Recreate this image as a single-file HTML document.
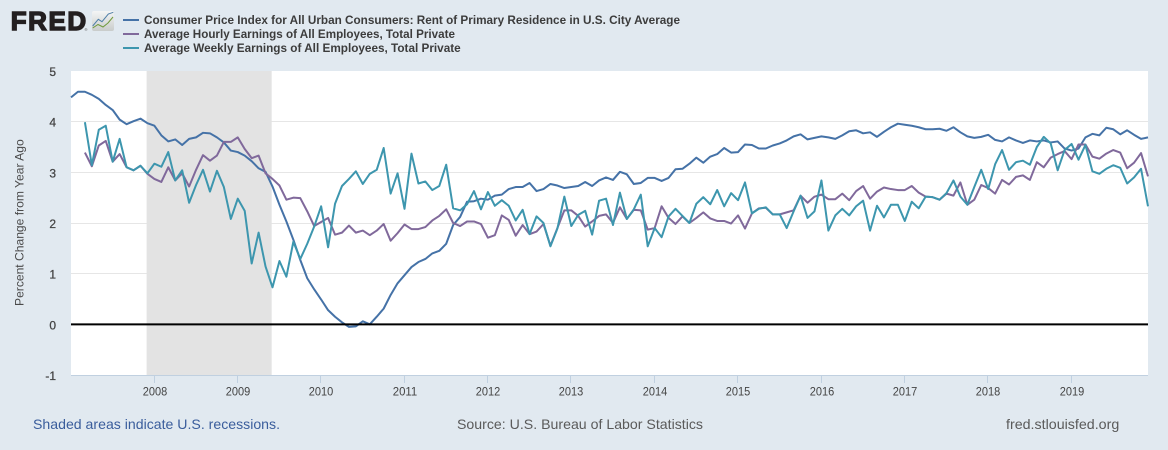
<!DOCTYPE html>
<html lang="en">
<head>
<meta charset="utf-8">
<title>FRED chart</title>
<style>
html,body{margin:0;padding:0;background:#e1e9f0;}
#chart{display:block;width:1168px;height:450px;}
text{font-family:"Liberation Sans",Arial,sans-serif;}
</style>
</head>
<body>
<svg id="chart" xmlns="http://www.w3.org/2000/svg" width="1168" height="450" viewBox="0 0 1168 450">
  <defs>
    <linearGradient id="logo-grad" x1="0" y1="0" x2="0" y2="1">
      <stop offset="0" stop-color="#f4f5f5"/>
      <stop offset="1" stop-color="#c9cccb"/>
    </linearGradient>
  </defs>
  <rect x="0" y="0" width="1168" height="450" fill="#e1e9f0"/>
  <g>
    <text x="10.7" y="30" font-size="26" font-weight="bold" fill="#231f20" stroke="#231f20" stroke-width="1.4" textLength="75.5" lengthAdjust="spacing">FRED</text>
    <text x="84.5" y="31" font-size="4" fill="#555555">®</text>
    <rect x="92" y="11" width="22" height="20" rx="2" fill="url(#logo-grad)"/>
    <polyline points="92.7,26 98.3,19.3 102,21.7 108.3,14 113.3,12.3" fill="none" stroke="#4f7fa8" stroke-width="1"/>
    <polyline points="92.7,28 98,24.5 103,27 108,23 113,17" fill="none" stroke="#6f9a3c" stroke-width="1"/>
  </g>
  <g>
    <g>
      <line x1="123" x2="139" y1="20" y2="20" stroke="#4572a7" stroke-width="2"/>
      <text x="144" y="24" font-size="12" font-weight="bold" fill="#3c3c3c" textLength="536" lengthAdjust="spacingAndGlyphs">Consumer Price Index for All Urban Consumers: Rent of Primary Residence in U.S. City Average</text>
    </g>
    <g>
      <line x1="123" x2="139" y1="34" y2="34" stroke="#80699b" stroke-width="2"/>
      <text x="144" y="38" font-size="12" font-weight="bold" fill="#3c3c3c" textLength="311" lengthAdjust="spacingAndGlyphs">Average Hourly Earnings of All Employees, Total Private</text>
    </g>
    <g>
      <line x1="123" x2="139" y1="48" y2="48" stroke="#3d96ae" stroke-width="2"/>
      <text x="144" y="52" font-size="12" font-weight="bold" fill="#3c3c3c" textLength="316.7" lengthAdjust="spacingAndGlyphs">Average Weekly Earnings of All Employees, Total Private</text>
    </g>
  </g>
  <rect x="71" y="71" width="1077" height="304" fill="#ffffff"/>
  <g id="grid"></g>
  <g id="bands"></g>
  <g id="y-axis"></g>
  <g id="x-axis"></g>
  <text transform="translate(23.3,306) rotate(-90)" font-size="12" fill="#4a4a4a" textLength="166.7" lengthAdjust="spacingAndGlyphs">Percent Change from Year Ago</text>
  <g id="series"></g>
  <line id="zero-line" stroke="#000000" stroke-width="2"/>
  <text x="33" y="429" font-size="14" fill="#3a5d9c" textLength="247" lengthAdjust="spacingAndGlyphs">Shaded areas indicate U.S. recessions.</text>
  <text x="457" y="429" font-size="14" fill="#5a5a5a" textLength="246" lengthAdjust="spacingAndGlyphs">Source: U.S. Bureau of Labor Statistics</text>
  <text x="1006" y="429" font-size="14" fill="#5a5a5a" textLength="113.3" lengthAdjust="spacingAndGlyphs">fred.stlouisfed.org</text>
</svg>
<script>
const yTicks = [-1, 0, 1, 2, 3, 4, 5];
const yearTicks = [2008, 2009, 2010, 2011, 2012, 2013, 2014, 2015, 2016, 2017, 2018, 2019];
const recessionMonths = [[11, 29]];
const rentValues = [
  4.48,4.59,4.59,4.53,4.45,4.33,4.23,4.04,3.95,4.01,
  4.06,3.97,3.92,3.73,3.61,3.65,3.54,3.66,3.69,3.78,
  3.77,3.69,3.59,3.43,3.40,3.33,3.22,3.08,3.01,2.72,
  2.36,2.03,1.67,1.27,0.91,0.69,0.49,0.28,0.15,0.04,
  -0.05,-0.04,0.06,0.00,0.15,0.31,0.58,0.81,0.97,1.13,
  1.23,1.29,1.40,1.45,1.59,1.96,2.12,2.42,2.43,2.48,
  2.46,2.54,2.56,2.67,2.71,2.71,2.79,2.63,2.67,2.77,
  2.74,2.69,2.71,2.73,2.81,2.73,2.84,2.90,2.85,3.01,
  2.96,2.77,2.79,2.89,2.89,2.83,2.89,3.06,3.07,3.17,
  3.29,3.19,3.31,3.36,3.48,3.39,3.40,3.55,3.54,3.47,
  3.47,3.53,3.57,3.63,3.71,3.75,3.65,3.68,3.71,3.69,
  3.66,3.73,3.81,3.83,3.77,3.79,3.70,3.80,3.89,3.96,
  3.94,3.92,3.89,3.85,3.85,3.86,3.82,3.89,3.79,3.71,
  3.68,3.70,3.74,3.64,3.61,3.69,3.63,3.58,3.63,3.61,
  3.63,3.59,3.61,3.47,3.43,3.47,3.69,3.76,3.73,3.88,
  3.85,3.75,3.83,3.74,3.66,3.69
];
const hourlyValues = [
  null,null,3.39,3.12,3.53,3.62,3.21,3.36,3.10,3.04,
  3.13,2.97,2.87,2.81,3.10,2.84,2.98,2.72,3.05,3.34,
  3.23,3.33,3.60,3.60,3.69,3.46,3.28,3.33,2.98,2.87,
  2.74,2.46,2.50,2.49,2.23,1.94,2.02,2.10,1.77,1.81,
  1.95,1.81,1.85,1.76,1.85,1.98,1.65,1.80,1.97,1.88,
  1.88,1.92,2.05,2.14,2.27,2.00,1.94,2.03,2.03,1.98,
  1.71,1.76,2.15,2.06,1.75,1.96,1.78,1.83,1.98,1.55,
  1.90,2.25,2.25,2.14,1.93,2.03,2.14,2.17,2.00,2.31,
  2.08,2.26,2.25,1.87,1.90,2.33,2.10,1.98,2.13,2.00,
  2.10,2.21,2.09,2.04,2.04,1.99,2.15,1.89,2.19,2.29,
  2.30,2.17,2.17,2.21,2.25,2.54,2.40,2.52,2.56,2.47,
  2.47,2.58,2.45,2.63,2.73,2.48,2.62,2.70,2.67,2.65,
  2.65,2.73,2.60,2.52,2.51,2.46,2.58,2.54,2.80,2.36,
  2.46,2.75,2.69,2.58,2.85,2.76,2.91,2.94,2.85,3.20,
  3.10,3.29,3.36,3.42,3.26,3.55,3.55,3.31,3.27,3.37,
  3.44,3.39,3.08,3.19,3.38,2.92
];
const weeklyValues = [
  null,null,3.99,3.14,3.84,3.92,3.21,3.66,3.10,3.04,
  3.13,2.98,3.17,3.11,3.40,2.84,3.04,2.40,2.75,3.05,
  2.62,3.03,2.71,2.08,2.48,2.24,1.20,1.81,1.14,0.73,
  1.25,0.94,1.63,1.29,1.59,1.93,2.33,1.52,2.38,2.73,
  2.87,3.02,2.77,2.97,3.05,3.48,2.58,2.98,2.28,3.37,
  2.78,2.82,2.65,2.73,3.15,2.29,2.25,2.37,2.63,2.27,
  2.61,2.34,2.45,2.34,2.05,2.26,1.78,2.13,2.00,1.54,
  1.89,2.52,1.94,2.16,2.24,1.77,2.44,2.48,1.96,2.60,
  2.08,2.27,2.56,1.54,1.90,1.72,2.13,2.28,2.14,2.00,
  2.38,2.51,2.37,2.65,2.33,2.59,2.45,2.80,2.19,2.28,
  2.31,2.17,2.17,1.90,2.23,2.54,2.10,2.23,2.84,1.85,
  2.15,2.28,2.15,2.33,2.44,1.85,2.34,2.11,2.36,2.36,
  2.04,2.42,2.29,2.52,2.51,2.46,2.59,2.84,2.52,2.36,
  2.71,3.05,2.67,3.16,3.44,3.05,3.20,3.23,3.15,3.50,
  3.70,3.57,3.04,3.44,3.56,3.25,3.54,3.02,2.97,3.07,
  3.14,3.09,2.78,2.90,3.07,2.33
];

const SVGNS = 'http://www.w3.org/2000/svg';
const plotLeft = 71, plotRight = 1148, plotTop = 71, plotBottom = 375;
const monthCount = rentValues.length;
function xScale(month) {
  return plotLeft + month * (plotRight - plotLeft) / (monthCount - 1);
}
function yScale(value) {
  return plotBottom - (value - yTicks[0]) * (plotBottom - plotTop) / (yTicks[yTicks.length - 1] - yTicks[0]);
}
function make(tag, attrs, parent) {
  const el = document.createElementNS(SVGNS, tag);
  for (const k in attrs) el.setAttribute(k, attrs[k]);
  parent.appendChild(el);
  return el;
}

const gridGroup = document.getElementById('grid');
const yAxisGroup = document.getElementById('y-axis');
yTicks.forEach(function (t) {
  if (t > yTicks[0] && t < yTicks[yTicks.length - 1]) {
    const gy = Math.floor(yScale(t) + 0.05) + 0.5;
    const g = make('line', {x1: plotLeft, x2: plotRight, y1: gy, y2: gy, stroke: '#e6e6e6', 'stroke-width': 1}, gridGroup);
    
    
  }
  const lab = make('text', {x: 56, y: yScale(t) + 5, 'text-anchor': 'end', 'font-size': 12, fill: '#444444', stroke: '#444444', 'stroke-width': 0.25}, yAxisGroup);
  lab.textContent = String(t);
  
  
});

const bandGroup = document.getElementById('bands');
recessionMonths.forEach(function (r) {
  const b = make('rect', {x: xScale(r[0]) - 0.8, y: plotTop, width: xScale(r[1]) - xScale(r[0]), height: plotBottom - plotTop, fill: '#e3e3e3'}, bandGroup);
  
  
});

const xAxisGroup = document.getElementById('x-axis');
const axisLine = make('line', {x1: plotLeft, x2: plotRight, y1: plotBottom + 0.5, y2: plotBottom + 0.5, stroke: '#c0d0e0', 'stroke-width': 1}, xAxisGroup);


yearTicks.forEach(function (year) {
  const x = Math.round(xScale((year - 2007) * 12) - 0.8) + 0.5;
  const tick = make('line', {x1: x, x2: x, y1: plotBottom, y2: plotBottom + 8, stroke: '#c0d0e0', 'stroke-width': 1}, xAxisGroup);
  
  
  const lab = make('text', {x: x + 0.5, y: 395.3, 'text-anchor': 'middle', 'font-size': 12, fill: '#444444', textLength: 24.5, lengthAdjust: 'spacingAndGlyphs'}, xAxisGroup);
  lab.textContent = String(year);
  
  
});

function linePath(values) {
  let d = '';
  values.forEach(function (v, i) {
    if (v === null) return;
    d += (d ? ' L' : 'M') + xScale(i).toFixed(2) + ' ' + yScale(v).toFixed(2);
  });
  return d;
}
const seriesGroup = document.getElementById('series');
const rentPath = make('path', {d: linePath(rentValues), fill: 'none', stroke: '#4572a7', 'stroke-width': 2, 'stroke-linejoin': 'round'}, seriesGroup);


const hourlyPath = make('path', {d: linePath(hourlyValues), fill: 'none', stroke: '#80699b', 'stroke-width': 2, 'stroke-linejoin': 'round'}, seriesGroup);


const weeklyPath = make('path', {d: linePath(weeklyValues), fill: 'none', stroke: '#3d96ae', 'stroke-width': 2, 'stroke-linejoin': 'round'}, seriesGroup);



const zero = document.getElementById('zero-line');
zero.setAttribute('x1', plotLeft);
zero.setAttribute('x2', plotRight);
zero.setAttribute('y1', yScale(0));
zero.setAttribute('y2', yScale(0));
</script>
</body>
</html>
